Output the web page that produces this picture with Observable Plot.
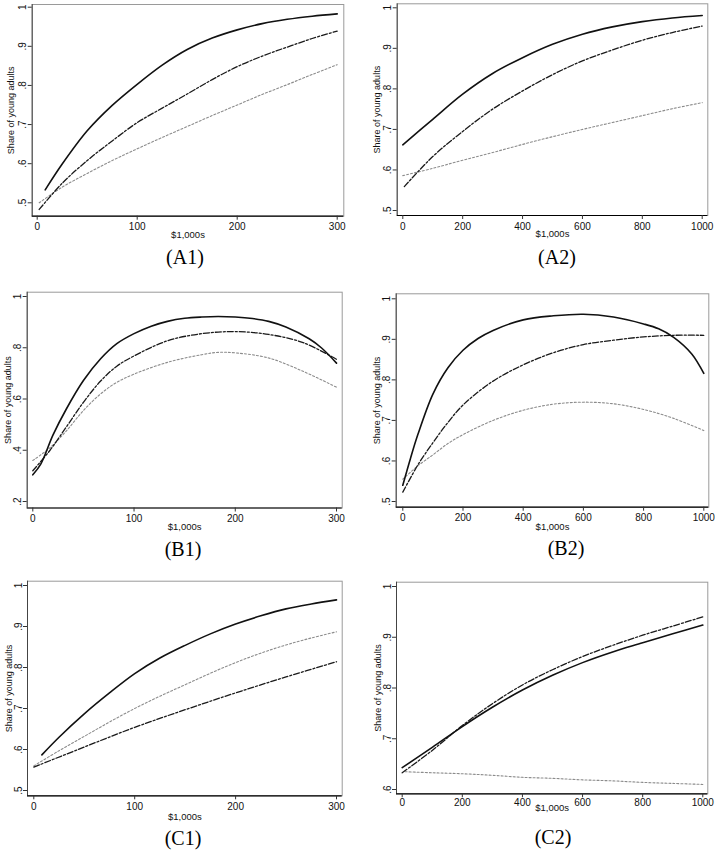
<!DOCTYPE html>
<html><head><meta charset="utf-8">
<script src="https://cdn.jsdelivr.net/npm/d3@7"></script>
<script src="https://cdn.jsdelivr.net/npm/@observablehq/plot@0.6"></script>
<style>
body{margin:0;background:#fff;}
#root{position:relative;width:715px;height:850px;overflow:hidden;background:#fff;}
.panel{position:absolute;}
.cap{position:absolute;width:120px;margin-left:-60px;font-family:"Liberation Serif","Times New Roman",serif;font-size:20px;line-height:24px;text-align:center;color:#000;}
</style></head>
<body><div id="root"></div>
<script>
// ---------------- DATA ----------------
const yTitle = "Share of young adults";
const xTitle = "$1,000s";
const captions = ["(A1)", "(A2)", "(B1)", "(B2)", "(C1)", "(C2)"];

const ticks300 = [0, 100, 200, 300];
const ticks1000 = [0, 200, 400, 600, 800, 1000];
const yTicksA = [0.5, 0.6, 0.7, 0.8, 0.9, 1];
const yTicksB1 = [0.2, 0.4, 0.6, 0.8, 1];
const yTicksC2 = [0.6, 0.7, 0.8, 0.9, 1];

// (A1)
const a1SolidX = [8, 25, 50, 75, 100, 125, 150, 175, 200, 225, 250, 275, 300];
const a1SolidY = [0.533, 0.599, 0.684, 0.749, 0.803, 0.852, 0.892, 0.921, 0.942, 0.958, 0.969, 0.977, 0.983];
const a1DashX = [2, 25, 50, 75, 100, 125, 150, 175, 200, 225, 250, 275, 300];
const a1DashY = [0.483, 0.55, 0.608, 0.658, 0.705, 0.742, 0.778, 0.815, 0.848, 0.875, 0.898, 0.92, 0.939];
const a1DotX = [2, 25, 50, 75, 100, 125, 150, 175, 200, 225, 250, 275, 300];
const a1DotY = [0.50, 0.54, 0.575, 0.608, 0.638, 0.667, 0.695, 0.723, 0.75, 0.777, 0.802, 0.828, 0.853];

// (A2)
const a2SolidX = [0, 100, 200, 300, 400, 500, 600, 700, 800, 900, 1000];
const a2SolidY = [0.662, 0.725, 0.787, 0.838, 0.877, 0.91, 0.935, 0.953, 0.966, 0.975, 0.981];
const a2DashX = [5, 100, 200, 300, 400, 500, 600, 700, 800, 900, 1000];
const a2DashY = [0.559, 0.633, 0.695, 0.75, 0.795, 0.835, 0.869, 0.896, 0.92, 0.939, 0.955];
const a2DotX = [0, 100, 200, 300, 400, 500, 600, 700, 800, 900, 1000];
const a2DotY = [0.586, 0.604, 0.624, 0.643, 0.663, 0.682, 0.7, 0.717, 0.734, 0.751, 0.766];

// (B1)
const b1SolidX = [0, 8, 20, 33, 50, 67, 83, 100, 117, 133, 150, 167, 183, 200, 217, 233, 250, 273, 285, 300];
const b1SolidY = [0.304, 0.347, 0.46, 0.56, 0.672, 0.757, 0.816, 0.855, 0.884, 0.903, 0.915, 0.920, 0.922, 0.920, 0.914, 0.903, 0.881, 0.835, 0.80, 0.74];
const b1DashX = [0, 17, 33, 50, 67, 83, 100, 133, 167, 200, 233, 267, 300];
const b1DashY = [0.32, 0.40, 0.49, 0.587, 0.67, 0.728, 0.768, 0.827, 0.855, 0.863, 0.852, 0.82, 0.755];
const b1DotX = [0, 17, 33, 50, 67, 83, 100, 133, 167, 183, 200, 233, 267, 300];
const b1DotY = [0.36, 0.41, 0.475, 0.555, 0.62, 0.665, 0.697, 0.743, 0.773, 0.782, 0.78, 0.76, 0.708, 0.646];

// (B2)
const b2SolidX = [0, 25, 50, 100, 150, 200, 250, 300, 400, 500, 600, 700, 800, 850, 900, 960, 1000];
const b2SolidY = [0.54, 0.605, 0.665, 0.765, 0.83, 0.873, 0.902, 0.922, 0.948, 0.958, 0.962, 0.955, 0.938, 0.926, 0.905, 0.864, 0.816];
const b2DashX = [0, 50, 100, 150, 200, 300, 400, 500, 600, 700, 800, 900, 1000];
const b2DashY = [0.523, 0.59, 0.645, 0.695, 0.738, 0.797, 0.837, 0.867, 0.887, 0.898, 0.906, 0.91, 0.91];
const b2DotX = [0, 50, 100, 150, 200, 300, 400, 500, 600, 700, 800, 900, 1000];
const b2DotY = [0.555, 0.588, 0.615, 0.643, 0.665, 0.70, 0.725, 0.74, 0.745, 0.741, 0.727, 0.705, 0.675];

// (C1)
const c1SolidX = [8, 25, 50, 75, 100, 125, 150, 175, 200, 225, 250, 275, 300];
const c1SolidY = [0.587, 0.63, 0.687, 0.738, 0.785, 0.823, 0.854, 0.882, 0.906, 0.926, 0.943, 0.955, 0.965];
const c1DashX = [0, 50, 100, 150, 200, 250, 300];
const c1DashY = [0.557, 0.606, 0.654, 0.697, 0.738, 0.777, 0.814];
const c1DotX = [0, 25, 50, 75, 100, 125, 150, 175, 200, 225, 250, 275, 300];
const c1DotY = [0.56, 0.597, 0.632, 0.667, 0.70, 0.73, 0.758, 0.786, 0.812, 0.835, 0.855, 0.872, 0.887];

// (C2)
const c2SolidX = [0, 100, 200, 300, 400, 500, 600, 700, 800, 900, 1000];
const c2SolidY = [0.643, 0.683, 0.724, 0.762, 0.796, 0.825, 0.85, 0.871, 0.889, 0.907, 0.924];
const c2DashX = [0, 100, 200, 300, 400, 500, 600, 700, 800, 900, 1000];
const c2DashY = [0.633, 0.677, 0.726, 0.769, 0.806, 0.836, 0.862, 0.884, 0.904, 0.922, 0.94];
const c2DotX = [10, 100, 200, 300, 400, 500, 600, 700, 800, 900, 1000];
const c2DotY = [0.635, 0.633, 0.631, 0.628, 0.624, 0.622, 0.619, 0.617, 0.614, 0.612, 0.61];

// ---------------- STYLES ----------------
const styles = {
  solid: {stroke: "#111", strokeWidth: 1.6},
  dash: {stroke: "#1a1a1a", strokeWidth: 1.3, strokeDasharray: "6,2,2,2"},
  dot: {stroke: "#8c8c8c", strokeWidth: 1.1, strokeDasharray: "2,2"}
};
const zip = (xs, ys) => xs.map((x, i) => ({x, y: ys[i]}));

const panels = [
  {cap: captions[0], capX: 185, capY: 257, left: 0, top: 0, w: 357, h: 246,
   frame: [31.7, 343.3, 4, 215.7], xp: [36.7, 336.7], xv: [0, 300], yp: [6.7, 202.3], yv: [1, 0.5],
   xTicks: ticks300, yTicks: yTicksA, tickPadX: 3, xTitleDy: 19, yTitleDx: -18,
   series: [[a1DotX, a1DotY, "dot"], [a1DashX, a1DashY, "dash"], [a1SolidX, a1SolidY, "solid"]]},
  {cap: captions[1], capX: 557, capY: 257, left: 357, top: 0, w: 358, h: 246,
   frame: [396.7, 707.3, 3.3, 215], xp: [402.3, 701.7], xv: [0, 1000], yp: [7.3, 210], yv: [1, 0.5],
   xTicks: ticks1000, yTicks: yTicksA, tickPadX: 3, xTitleDy: 18, yTitleDx: -17,
   series: [[a2DotX, a2DotY, "dot"], [a2DashX, a2DashY, "dash"], [a2SolidX, a2SolidY, "solid"]]},
  {cap: captions[2], capX: 183, capY: 549, left: 0, top: 280, w: 357, h: 258,
   frame: [26.7, 341.7, 291.7, 507.5], xp: [32.3, 336], xv: [0, 300], yp: [296, 501], yv: [1, 0.2],
   xTicks: ticks300, yTicks: yTicksB1, tickPadX: 3, xTitleDy: 19, yTitleDx: -16,
   series: [[b1DotX, b1DotY, "dot"], [b1DashX, b1DashY, "dash"], [b1SolidX, b1SolidY, "solid"]]},
  {cap: captions[3], capX: 566, capY: 548, left: 357, top: 280, w: 358, h: 258,
   frame: [395.7, 708.3, 293.3, 506.7], xp: [402.3, 703.3], xv: [0, 1000], yp: [298.3, 501], yv: [1, 0.5],
   xTicks: ticks1000, yTicks: yTicksA, tickPadX: 3, xTitleDy: 20, yTitleDx: -16,
   series: [[b2DotX, b2DotY, "dot"], [b2DashX, b2DashY, "dash"], [b2SolidX, b2SolidY, "solid"]]},
  {cap: captions[4], capX: 183, capY: 838, left: 0, top: 560, w: 357, h: 266,
   frame: [27, 341.7, 580.7, 795.3], xp: [33.3, 336], xv: [0, 300], yp: [585, 790], yv: [1, 0.5],
   xTicks: ticks300, yTicks: yTicksA, tickPadX: 3, xTitleDy: 21, yTitleDx: -16,
   series: [[c1DotX, c1DotY, "dot"], [c1DashX, c1DashY, "dash"], [c1SolidX, c1SolidY, "solid"]]},
  {cap: captions[5], capX: 553, capY: 837, left: 357, top: 560, w: 358, h: 264,
   frame: [396, 707.3, 581.7, 793.3], xp: [401.7, 702.3], xv: [0, 1000], yp: [586, 789], yv: [1, 0.6],
   xTicks: ticks1000, yTicks: yTicksC2, tickPadX: 1, xTitleDy: 14, yTitleDx: -16,
   series: [[c2DotX, c2DotY, "dot"], [c2DashX, c2DashY, "dash"], [c2SolidX, c2SolidY, "solid"]]}
];

const fmtY = d => d === 1 ? "1" : String(d).replace(/^0/, "");
const root = document.getElementById("root");

function domainFrom(p0, p1, v0, v1, a, b) {
  const k = (v1 - v0) / (p1 - p0);
  return [v0 + (a - p0) * k, v0 + (b - p0) * k];
}

for (const p of panels) {
  const [L, R, T, B] = p.frame;
  const xDomain = domainFrom(p.xp[0], p.xp[1], p.xv[0], p.xv[1], L, R);
  const yDomain = domainFrom(p.yp[0], p.yp[1], p.yv[0], p.yv[1], B, T);
  const marks = [
    Plot.frame({stroke: "#9a9a9a", strokeWidth: 1}),
    Plot.ruleX([xDomain[0]], {stroke: "#444", strokeWidth: 1}),
    Plot.ruleY([yDomain[0]], {stroke: "#000", strokeWidth: 1.2}),
    Plot.axisY({ticks: p.yTicks, tickFormat: fmtY, tickSize: 4, tickPadding: 2, tickRotate: -90, fontSize: 10, label: null, stroke: "#333"}),
    Plot.axisX({ticks: p.xTicks, tickFormat: d => String(d), tickSize: 4, tickPadding: p.tickPadX, fontSize: 10, label: null, stroke: "#333"}),
    Plot.text([yTitle], {text: d => d, frameAnchor: "left", rotate: -90, dx: p.yTitleDx, textAnchor: "middle", lineAnchor: "bottom", fontSize: 9, fill: "#111"}),
    Plot.text([xTitle], {text: d => d, frameAnchor: "bottom", dy: p.xTitleDy, textAnchor: "middle", lineAnchor: "middle", fontSize: 9.5, fill: "#111"})
  ];
  for (const [xs, ys, s] of p.series) {
    marks.push(Plot.line(zip(xs, ys), {x: "x", y: "y", curve: "catmull-rom", ...styles[s]}));
  }
  const chart = Plot.plot({
    width: p.w, height: p.h,
    marginLeft: L - p.left, marginRight: p.left + p.w - R,
    marginTop: T - p.top, marginBottom: p.top + p.h - B,
    x: {domain: xDomain},
    y: {domain: yDomain},
    style: {fontFamily: "'Liberation Sans', Arial, sans-serif", fontSize: "10px", background: "transparent", color: "#111"},
    marks
  });
  const div = document.createElement("div");
  div.className = "panel";
  div.style.left = p.left + "px";
  div.style.top = p.top + "px";
  div.appendChild(chart);
  root.appendChild(div);
  const cap = document.createElement("div");
  cap.className = "cap";
  cap.textContent = p.cap;
  cap.style.left = p.capX + "px";
  cap.style.top = (p.capY - 12) + "px";
  root.appendChild(cap);
}
</script>
</body></html>
